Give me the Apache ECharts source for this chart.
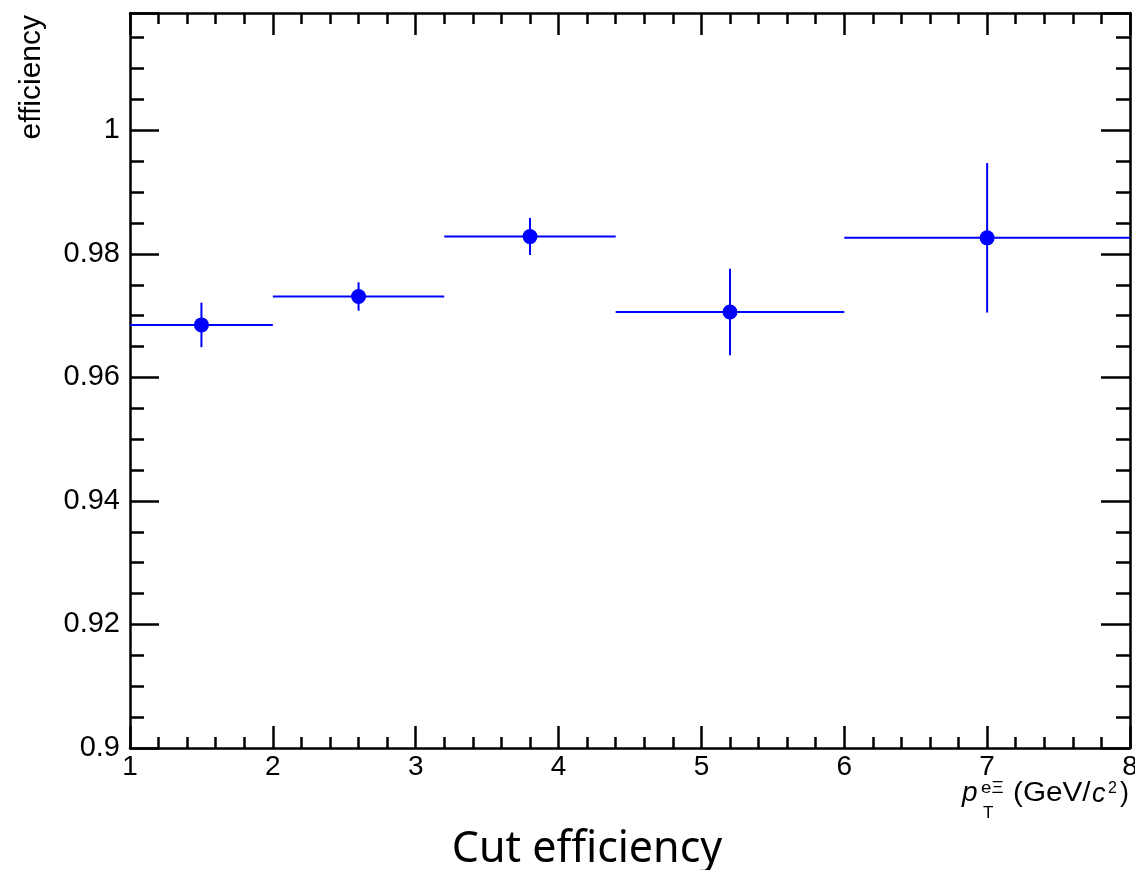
<!DOCTYPE html>
<html>
<head>
<meta charset="utf-8">
<script src="https://cdn.jsdelivr.net/npm/echarts@6/dist/echarts.min.js"></script>
<style>
html,body{margin:0;padding:0;background:#fff;overflow:hidden;}
#chart{width:1135px;height:870px;}
</style>
</head>
<body>
<div id="chart"></div>
<script>
// ---- data ----
const binLow  = [1, 2, 3.2, 4.4, 6];
const binHigh = [2, 3.2, 4.4, 6, 8];
const ptX     = [1.5, 2.6, 3.8, 5.2, 7];
const eff     = [0.9685, 0.9731, 0.9828, 0.9706, 0.9826];
const effErr  = [0.0036, 0.0023, 0.0030, 0.0070, 0.0121];
const xTicks  = [1, 2, 3, 4, 5, 6, 7, 8];
const yTickLabels = ['0.9', '0.92', '0.94', '0.96', '0.98', '1'];

const FONT = '"Liberation Sans", Arial, Helvetica, sans-serif';
const BLUE = '#0000ff';
const GRID = {left: 130, right: 5, top: 13, bottom: 122, outerBoundsMode: 'none', containLabel: false};
const XMIN = 1, XMAX = 8, YMIN = 0.9, YMAX = 1.019;

const errData = ptX.map((x, i) => [x, eff[i], binLow[i], binHigh[i], effErr[i]]);
const ptData = ptX.map((x, i) => [x, eff[i]]);

const axisLine = {show: true, onZero: false, lineStyle: {color: '#000', width: 2.5}};
const tickStyle = {color: '#000', width: 2.5};

function yLabelFmt(v) {
  for (const s of yTickLabels) { if (Math.abs(parseFloat(s) - v) < 1e-6) return s; }
  return '';
}

const chart = echarts.init(document.getElementById('chart'), null, {renderer: 'canvas'});
chart.setOption({
  animation: false,
  backgroundColor: '#fff',
  grid: [Object.assign({}, GRID), Object.assign({}, GRID)],
  xAxis: [
    {type: 'value', gridIndex: 0, position: 'bottom', min: XMIN, max: XMAX, interval: 1,
     axisLine: axisLine,
     axisTick: {show: true, inside: true, length: 22, lineStyle: tickStyle},
     minorTick: {show: true, splitNumber: 5, length: 11, lineStyle: tickStyle},
     axisLabel: {show: true, margin: 5, color: '#000', fontSize: 28, fontFamily: FONT, hideOverlap: false,
                 showMinLabel: true, showMaxLabel: true,
                 formatter: v => xTicks.indexOf(Math.round(v)) >= 0 && Math.abs(v - Math.round(v)) < 1e-6 ? String(Math.round(v)) : ''},
     splitLine: {show: false}},
    {type: 'value', gridIndex: 0, position: 'top', min: XMIN, max: XMAX, interval: 1,
     axisLine: axisLine,
     axisTick: {show: true, inside: true, length: 22, lineStyle: tickStyle},
     minorTick: {show: true, splitNumber: 5, length: 11, lineStyle: tickStyle},
     axisLabel: {show: false}, splitLine: {show: false}},
    {type: 'value', gridIndex: 1, min: XMIN, max: XMAX, show: false}
  ],
  yAxis: [
    {type: 'value', gridIndex: 0, position: 'left', min: YMIN, max: YMAX, interval: 0.02,
     axisLine: axisLine,
     axisTick: {show: true, inside: true, length: 29, lineStyle: tickStyle},
     axisLabel: {show: true, margin: 10, color: '#000', fontSize: 29, fontFamily: FONT, formatter: yLabelFmt},
     splitLine: {show: false}},
    {type: 'value', gridIndex: 0, position: 'right', min: YMIN, max: YMAX, interval: 0.02,
     axisLine: axisLine,
     axisTick: {show: true, inside: true, length: 29, lineStyle: tickStyle},
     axisLabel: {show: false}, splitLine: {show: false}},
    {type: 'value', gridIndex: 1, position: 'left', min: YMIN, max: YMAX, interval: 0.005,
     axisLine: {show: false},
     axisTick: {show: true, inside: true, length: 14, lineStyle: tickStyle},
     axisLabel: {show: false}, splitLine: {show: false}},
    {type: 'value', gridIndex: 1, position: 'right', min: YMIN, max: YMAX, interval: 0.005,
     axisLine: {show: false},
     axisTick: {show: true, inside: true, length: 14, lineStyle: tickStyle},
     axisLabel: {show: false}, splitLine: {show: false}}
  ],
  series: [
    {
      type: 'custom', xAxisIndex: 0, yAxisIndex: 0, data: errData, z: 2, clip: true,
      encode: {x: 0, y: 1},
      renderItem: function (params, api) {
        const xc = api.value(0), y = api.value(1), xlo = api.value(2), xhi = api.value(3), e = api.value(4);
        const pL = api.coord([xlo, y]), pR = api.coord([xhi, y]);
        const pT = api.coord([xc, y + e]), pB = api.coord([xc, y - e]);
        const st = {stroke: BLUE, lineWidth: 2};
        return {type: 'group', children: [
          {type: 'line', shape: {x1: pL[0], y1: pL[1], x2: pR[0], y2: pR[1]}, style: st},
          {type: 'line', shape: {x1: pT[0], y1: pT[1], x2: pB[0], y2: pB[1]}, style: st}
        ]};
      }
    },
    {
      type: 'scatter', xAxisIndex: 0, yAxisIndex: 0, data: ptData, z: 3,
      symbol: 'circle', symbolSize: 15, itemStyle: {color: BLUE, opacity: 1}
    }
  ],
  graphic: [
    {type: 'text', x: 32, y: 15, rotation: Math.PI / 2,
     style: {text: 'efficiency', fontSize: 30, fontFamily: FONT, fill: '#000', textAlign: 'right', textVerticalAlign: 'middle'}},
    {type: 'text', x: 962, y: 793,
     style: {text: 'p', fontSize: 28, fontStyle: 'italic', fontFamily: FONT, fill: '#000', textAlign: 'left', textVerticalAlign: 'middle'}},
    {type: 'text', x: 981, y: 788, scaleX: 1.1,
     style: {text: 'eΞ', fontSize: 17, fontFamily: FONT, fill: '#000', textAlign: 'left', textVerticalAlign: 'middle'}},
    {type: 'text', x: 983, y: 813,
     style: {text: 'T', fontSize: 17, fontFamily: FONT, fill: '#000', textAlign: 'left', textVerticalAlign: 'middle'}},
    {type: 'text', x: 1013, y: 794, scaleX: 1.1,
     style: {text: '(GeV/', fontSize: 27, fontFamily: FONT, fill: '#000', textAlign: 'left', textVerticalAlign: 'middle'}},
    {type: 'text', x: 1092, y: 794,
     style: {text: 'c', fontSize: 27, fontStyle: 'italic', fontFamily: FONT, fill: '#000', textAlign: 'left', textVerticalAlign: 'middle'}},
    {type: 'text', x: 1108, y: 789,
     style: {text: '2', fontSize: 16, fontFamily: FONT, fill: '#000', textAlign: 'left', textVerticalAlign: 'middle'}},
    {type: 'text', x: 1120, y: 794,
     style: {text: ')', fontSize: 27, fontFamily: FONT, fill: '#000', textAlign: 'left', textVerticalAlign: 'middle'}},
    {type: 'text', x: 587, y: 850,
     style: {text: 'Cut efficiency', fontSize: 43, fontFamily: '"Noto Sans", "Open Sans", sans-serif', fill: '#000', textAlign: 'center', textVerticalAlign: 'middle'}}
  ]
});
</script>
</body>
</html>
